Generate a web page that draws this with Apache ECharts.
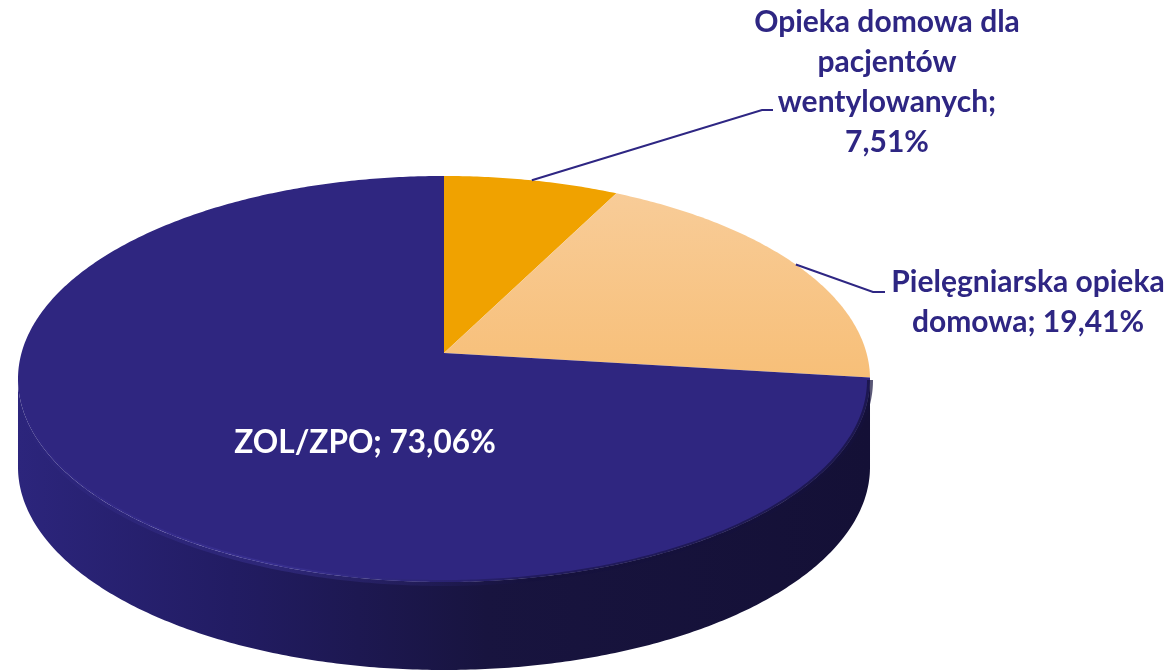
<!DOCTYPE html>
<html><head><meta charset="utf-8">
<script src="https://cdn.jsdelivr.net/npm/echarts@6/dist/echarts.min.js"></script>
<style>html,body{margin:0;padding:0;background:#fff}#c{width:1168px;height:670px}</style>
</head><body><div id="c"></div>
<script>
// ---- data ----
const categories = ['Opieka domowa dla\npacjentów\nwentylowanych', 'Pielęgniarska opieka\ndomowa', 'ZOL/ZPO'];
const values = [7.51, 19.41, 73.06];
const labelSeparators = ['\n', ' ', ' '];

// ---- style / layout ----
const topColors = [
  '#F0A200',
  {type:'linear',x:0,y:0,x2:0,y2:1,colorStops:[{offset:0,color:'#F8CC98'},{offset:1,color:'#F7BF78'}]},
  '#2F2680'
];
const sideColors = ['#B07600', '#C89456',
  {type:'linear',x:0,y:0,x2:1,y2:0,colorStops:[{offset:0,color:'#2C257C'},{offset:0.25,color:'#221C63'},{offset:0.55,color:'#18143F'},{offset:1,color:'#141036'}]}];
const textColor = '#2E2683';
const FONT = 'Lato';
const P = {cx:444, cy:353, a:422.5, b:199.7, c:-0.128, h:88};
const labelLayout = [
  {x:887, y:2, size:30, align:'center', color:textColor, elbow:[762,110], end:[773,110]},
  {x:1028, y:262, size:30, align:'center', color:textColor, elbow:[873,292], end:[885,292]},
  {x:365, y:423, size:31.5, align:'center', color:'#FFFFFF', inside:true}
];

function proj(t, dy){
  const X = Math.sin(t), Y = -Math.cos(t);
  const d = 1 + P.c*Y;
  return [P.cx + P.a*X/d, P.cy + P.b*Y/d + (dy||0)];
}
function arc(t0, t1, dy){
  const pts = [];
  const n = Math.max(2, Math.ceil(Math.abs(t1-t0)/0.01));
  for (let i=0;i<=n;i++) pts.push(proj(t0+(t1-t0)*i/n, dy));
  return pts;
}
const total = values.reduce((s,v)=>s+v,0);
const starts = []; {let acc=0; values.forEach(v=>{starts.push(acc/total*2*Math.PI); acc+=v;});}
// visible silhouette range of the side wall
const tVis0 = Math.acos(P.c);
const tVis1 = 2*Math.PI - tVis0;

function fmt(v){ return v.toFixed(2).replace('.', ',') + '%'; }

function renderItem(params, api){
  const i = params.dataIndex;
  const v = api.value(1);
  const t0 = starts[i], t1 = t0 + v/total*2*Math.PI;
  const children = [];
  const s0 = Math.max(t0, tVis0), s1 = Math.min(t1, tVis1);
  if (s1 > s0){
    const topA = arc(s0, s1, 0), botA = arc(s1, s0, P.h);
    children.push({type:'polygon', z2:1, shape:{points: topA.concat(botA)}, style:{fill: sideColors[i]}, silent:true});
    children.push({type:'polyline', z2:5, shape:{points: arc(s0, s1, 1)},
      style:{fill:null, lineWidth:6,
        stroke:{type:'linear',x:0,y:0,x2:1,y2:0,colorStops:[{offset:0,color:'rgba(80,70,190,0.0)'},{offset:0.3,color:'rgba(70,62,170,0.35)'},{offset:0.6,color:'rgba(20,16,60,0.5)'},{offset:1,color:'rgba(20,16,60,0.7)'}]}}, silent:true});
  }
  const pts = [[P.cx, P.cy]].concat(arc(t0, t1, 0));
  children.push({type:'polygon', z2:3, shape:{points: pts}, style:{fill: topColors[i]}, silent:true});
  const L = labelLayout[i];
  const txt = categories[i] + ';' + labelSeparators[i] + fmt(v);
  if (!L.inside){
    const mid = (t0+t1)/2;
    const anchor = proj(mid, 0);
    children.push({type:'polyline', z2:10, shape:{points:[anchor, L.elbow, L.end]}, style:{fill:null, stroke:textColor, lineWidth:2}, silent:true});
  }
  children.push({type:'text', z2:11, style:{text: txt, x:L.x, y:L.y, fill:L.color, align:L.align, verticalAlign:'top',
    font: 'bold ' + L.size + 'px ' + FONT, lineHeight: 40}, silent:true});
  return {type:'group', children};
}

const chart = echarts.init(document.getElementById('c'), null, {renderer:'canvas'});
chart.setOption({
  animation:false,
  series:[{
    type:'custom',
    coordinateSystem:'none',
    renderItem,
    data: values.map((v,i)=>[i, v])
  }]
});
</script>
</body></html>
